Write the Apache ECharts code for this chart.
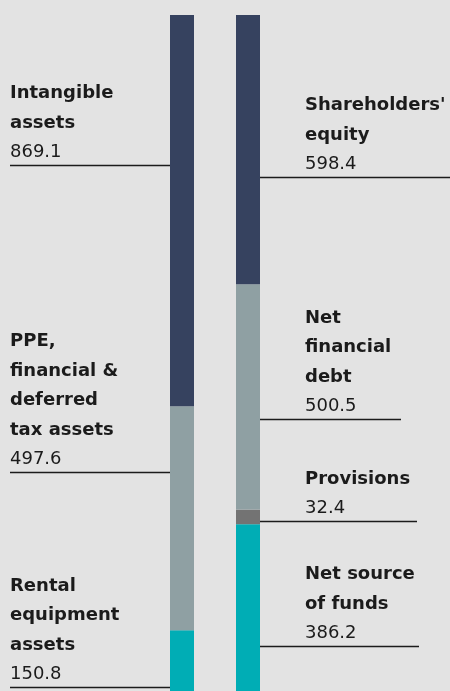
<!DOCTYPE html>
<html>
<head>
<meta charset="utf-8">
<script src="https://cdn.jsdelivr.net/npm/echarts@6/dist/echarts.min.js"></script>
<style>
  html, body { margin: 0; padding: 0; background: #e3e3e3; overflow: hidden; }
  #chart { width: 450px; height: 698px; }
</style>
</head>
<body>
<div id="chart"></div>
<script>
// two balance-sheet columns, segments listed bottom-up
const categories = ['Assets', 'Liabilities']
const assetValues = [150.8, 497.6, 869.1]
const assetTitles = [
  ['Rental', 'equipment', 'assets'],
  ['PPE,', 'financial &', 'deferred', 'tax assets'],
  ['Intangible', 'assets'],
]
const liabilityValues = [386.2, 32.4, 500.5, 598.4]
const liabilityTitles = [
  ['Net source', 'of funds'],
  ['Provisions'],
  ['Net', 'financial', 'debt'],
  ["Shareholders'", 'equity'],
]

const assetColors = ['#00adb5', '#8fa0a3', '#36425f']
const liabilityColors = ['#00adb5', '#737373', '#8fa0a3', '#36425f']

// leader line: px below segment top, and right end for the right column
const assetLineDy = [57, 66, 150]
const liabilityLineDy = [122, 11, 135, 162]
const liabilityLineEnd = [419, 417, 401, 450]

const FONT = '"DejaVu Sans", sans-serif'
const BAR_W = 24

const series = []
const levels = Math.max(assetValues.length, liabilityValues.length)
for (let i = 0; i < levels; i++) {
  series.push({
    type: 'bar',
    stack: 'total',
    barWidth: BAR_W,
    silent: true,
    data: [
      i < assetValues.length
        ? { value: assetValues[i], itemStyle: { color: assetColors[i] } }
        : '-',
      i < liabilityValues.length
        ? { value: liabilityValues[i], itemStyle: { color: liabilityColors[i] } }
        : '-',
    ],
  })
}

const total = assetValues.reduce((a, b) => a + b, 0)

// the page is 691 high, the bars run a few px past the bottom edge
const chart = echarts.init(document.getElementById('chart'), null, { renderer: 'canvas' })
chart.setOption({
  backgroundColor: '#e3e3e3',
  animation: false,
  grid: { left: 149, top: 15, width: 132, bottom: 0 },
  xAxis: {
    type: 'category',
    data: categories,
    show: false,
  },
  yAxis: {
    type: 'value',
    min: 0,
    max: total,
    show: false,
  },
  series,
})

function labelText(lines, value) {
  return lines.map(l => '{t|' + l + '}').join('\n') + '\n{v|' + value.toFixed(1) + '}'
}
const rich = {
  t: { font: 'bold 18px ' + FONT, lineHeight: 29.5, fill: '#1b1b1b' },
  v: { font: '18px ' + FONT, lineHeight: 29.5, fill: '#1b1b1b' },
}

const graphics = []
function addAnnotations(catIdx, values, titles, lineDy, side) {
  const cx = chart.convertToPixel({ xAxisIndex: 0 }, categories[catIdx])
  let cum = 0
  values.forEach((v, i) => {
    cum += v
    const top = chart.convertToPixel({ yAxisIndex: 0 }, cum)
    const y = Math.round(top + lineDy[i]) + 0.5
    const x1 = side === 'left' ? 10 : cx + BAR_W / 2
    const x2 = side === 'left' ? cx - BAR_W / 2 : liabilityLineEnd[i]
    graphics.push({
      type: 'line',
      silent: true,
      shape: { x1, y1: y, x2, y2: y },
      style: { stroke: '#1b1b1b', lineWidth: 1.5 },
    })
    graphics.push({
      type: 'text',
      silent: true,
      x: side === 'left' ? 10 : 305,
      y: y + 2,
      style: {
        text: labelText(titles[i], v),
        rich,
        verticalAlign: 'bottom',
        align: 'left',
      },
    })
  })
}
addAnnotations(0, assetValues, assetTitles, assetLineDy, 'left')
addAnnotations(1, liabilityValues, liabilityTitles, liabilityLineDy, 'right')

chart.setOption({ graphic: graphics })
</script>
</body>
</html>
